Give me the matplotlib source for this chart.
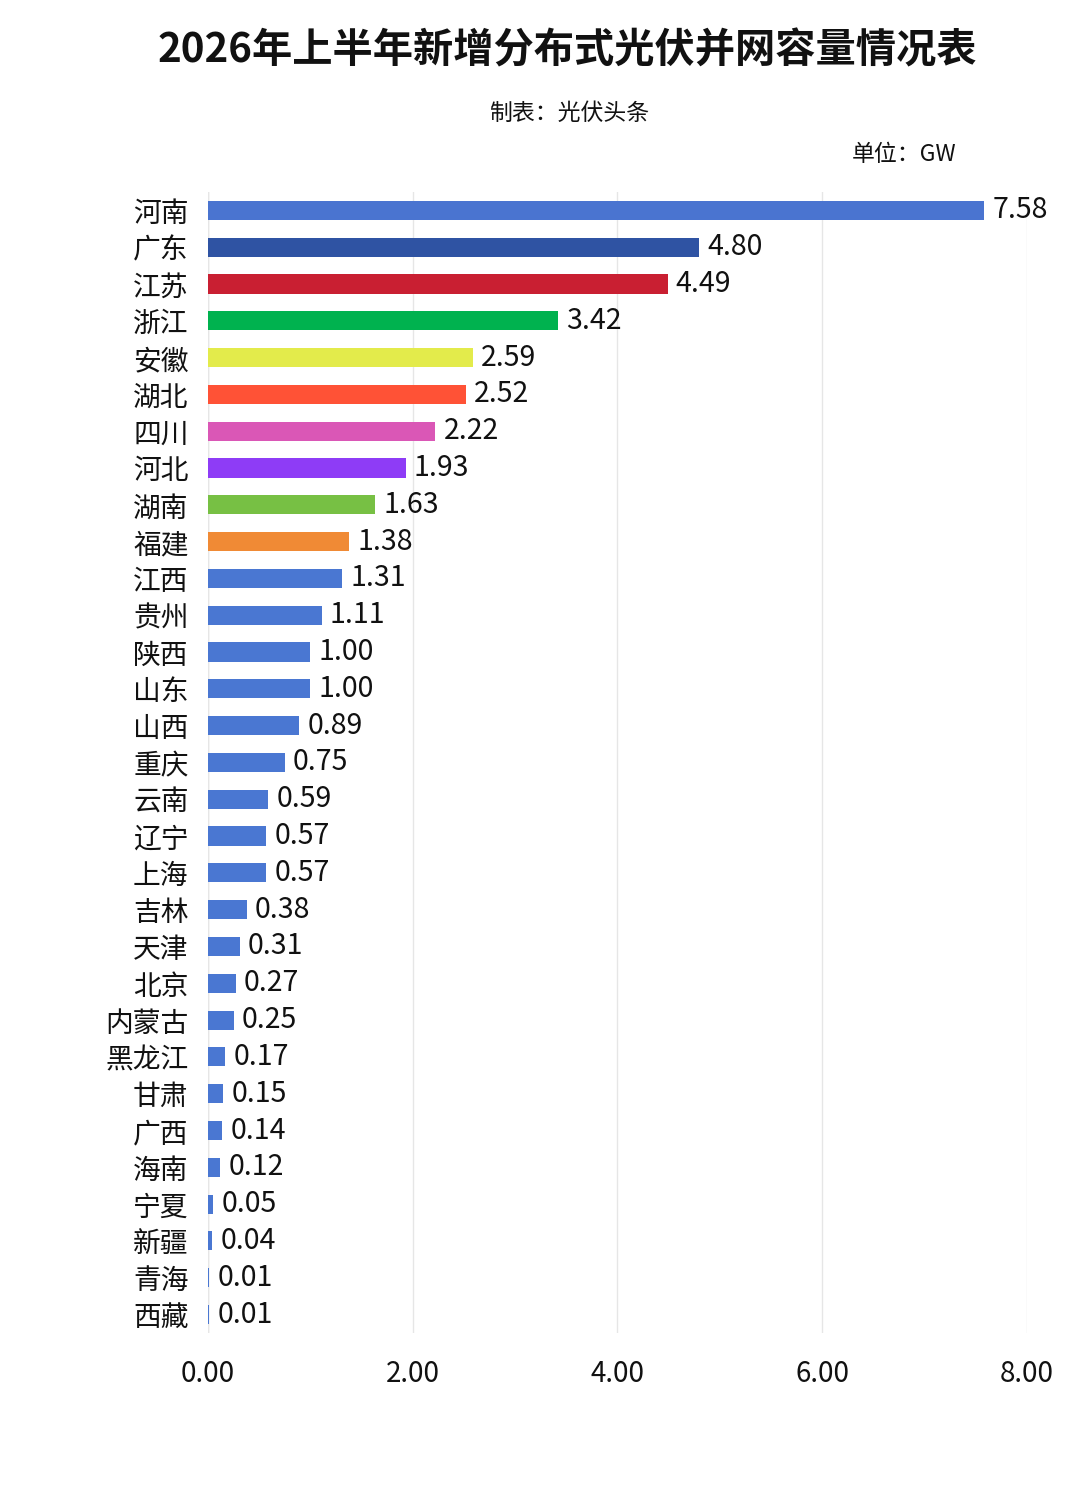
import matplotlib
matplotlib.use("Agg")
import matplotlib.pyplot as plt

plt.rcParams["font.family"] = ["Noto Sans CJK SC", "DejaVu Sans"]

provinces = ["河南", "广东", "江苏", "浙江", "安徽", "湖北", "四川", "河北", "湖南", "福建",
             "江西", "贵州", "陕西", "山东", "山西", "重庆", "云南", "辽宁", "上海", "吉林",
             "天津", "北京", "内蒙古", "黑龙江", "甘肃", "广西", "海南", "宁夏", "新疆", "青海", "西藏"]
capacity = [7.58, 4.80, 4.49, 3.42, 2.59, 2.52, 2.22, 1.93, 1.63, 1.38,
            1.31, 1.11, 1.00, 1.00, 0.89, 0.75, 0.59, 0.57, 0.57, 0.38,
            0.31, 0.27, 0.25, 0.17, 0.15, 0.14, 0.12, 0.05, 0.04, 0.01, 0.01]
top_colors = ["#4A74D0", "#2F53A3", "#C91F32", "#00B24F", "#E3EB4B",
              "#FF5236", "#DA57B6", "#8E3CF6", "#77C044", "#F08A35"]
default_color = "#4A77D2"
colors = top_colors + [default_color] * (len(provinces) - len(top_colors))
xticks = [0, 2, 4, 6, 8]

fig = plt.figure(figsize=(10.8, 14.96), dpi=100)
ax = fig.add_axes([0.1926, 0.109, 0.7583, 0.7627])

y = list(range(len(provinces)))
ax.barh(y, capacity, height=0.52, color=colors, zorder=3)
for yi, v in zip(y, capacity):
    ax.text(v + 0.08, yi, f"{v:.2f}", va="center", ha="left", fontsize=20.5,
            fontweight="medium", color="#111111")

ax.set_xlim(0, 8)
ax.set_ylim(len(provinces) - 0.5, -0.5)
ax.set_yticks(y)
ax.set_yticklabels(provinces, fontsize=20, fontweight="medium", color="#111111")
ax.set_xticks(xticks)
ax.set_xticklabels([f"{t:.2f}" for t in xticks], fontsize=20, fontweight="medium", color="#111111")
ax.tick_params(axis="both", length=0)
ax.tick_params(axis="y", pad=14)
ax.tick_params(axis="x", pad=19)
ax.grid(axis="x", color="#E6E6E6", linewidth=1, zorder=0)
ax.axvline(0, color="#E0E0E0", linewidth=1, zorder=1)
for s in ax.spines.values():
    s.set_visible(False)

fig.text(0.525, 0.966, "2026年上半年新增分布式光伏并网容量情况表", ha="center", va="center",
         fontsize=29, fontweight="bold", color="#111111")
fig.text(0.527, 0.924, "制表：光伏头条", ha="center", va="center", fontsize=16.5,
         fontweight="medium", color="#111111")
fig.text(0.886, 0.897, "单位：GW", ha="right", va="center", fontsize=16.5,
         fontweight="medium", color="#111111")

fig.savefig("out.png", dpi=100, facecolor="white")
